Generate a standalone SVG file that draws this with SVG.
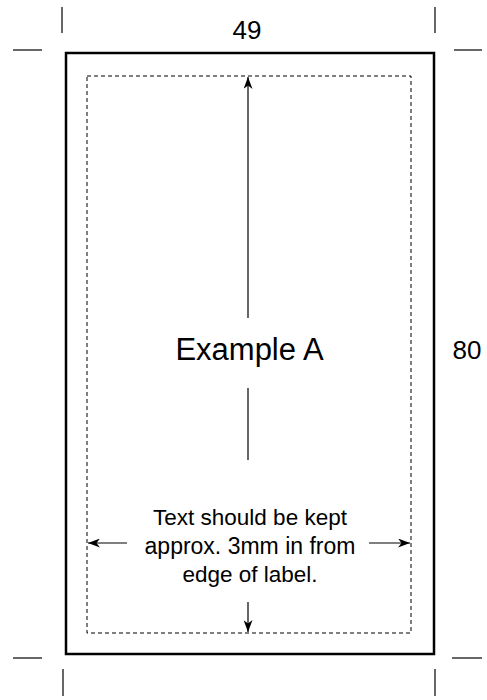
<svg xmlns="http://www.w3.org/2000/svg" width="487" height="700" viewBox="0 0 487 700">
<style>
.t{font-family:"Liberation Sans",Arial,sans-serif;fill:#000;text-anchor:middle}
.ln{stroke:#000;stroke-width:1.2;fill:none}
.crop{stroke:#000;stroke-width:1.2}
</style>
<defs>
<marker id="ah" viewBox="0 0 12 9" refX="12" refY="4.5" markerWidth="12" markerHeight="9" markerUnits="userSpaceOnUse" orient="auto">
<path d="M0,0 L12,4.5 L0,9 L3.5,4.5 z" fill="#000"/>
</marker>
</defs>
<rect width="487" height="700" fill="#fff"/>
<g id="crop-marks">
<line class="crop" x1="62" y1="7" x2="62" y2="33"/>
<line class="crop" x1="435" y1="7" x2="435" y2="33"/>
<line class="crop" x1="13" y1="50" x2="42" y2="50"/>
<line class="crop" x1="454" y1="50" x2="482" y2="50"/>
<line class="crop" x1="63" y1="669" x2="63" y2="696"/>
<line class="crop" x1="435" y1="669" x2="435" y2="696"/>
<line class="crop" x1="13" y1="658" x2="42" y2="658"/>
<line class="crop" x1="452" y1="658" x2="482" y2="658"/>
</g>
<g id="label">
<rect x="66" y="53" width="368" height="601" fill="none" stroke="#000" stroke-width="2.5"/>
</g>
<g id="safe-area">
<rect x="87" y="76" width="324" height="557" fill="none" stroke="#000" stroke-width="1" stroke-dasharray="4,3"/>
</g>
<g id="dim-width"><text class="t" x="247" y="39" font-size="26">49</text></g>
<g id="dim-height"><text class="t" x="467" y="359" font-size="26">80</text></g>
<g id="title"><text class="t" x="249.5" y="360" font-size="31">Example A</text></g>
<g id="note">
<text class="t" x="250" y="525" font-size="22.5">Text should be kept</text>
<text class="t" x="250" y="553.5" font-size="23">approx. 3mm in from</text>
<text class="t" x="250" y="582" font-size="22.5">edge of label.</text>
</g>
<g id="connectors">
<line class="ln" x1="248" y1="318" x2="248" y2="77" marker-end="url(#ah)"/>
<line class="ln" x1="248" y1="388" x2="248" y2="460"/>
<line class="ln" x1="248" y1="602" x2="248" y2="632" marker-end="url(#ah)"/>
<line class="ln" x1="127" y1="543" x2="88" y2="543" marker-end="url(#ah)"/>
<line class="ln" x1="369" y1="543" x2="410" y2="543" marker-end="url(#ah)"/>
</g>
</svg>
